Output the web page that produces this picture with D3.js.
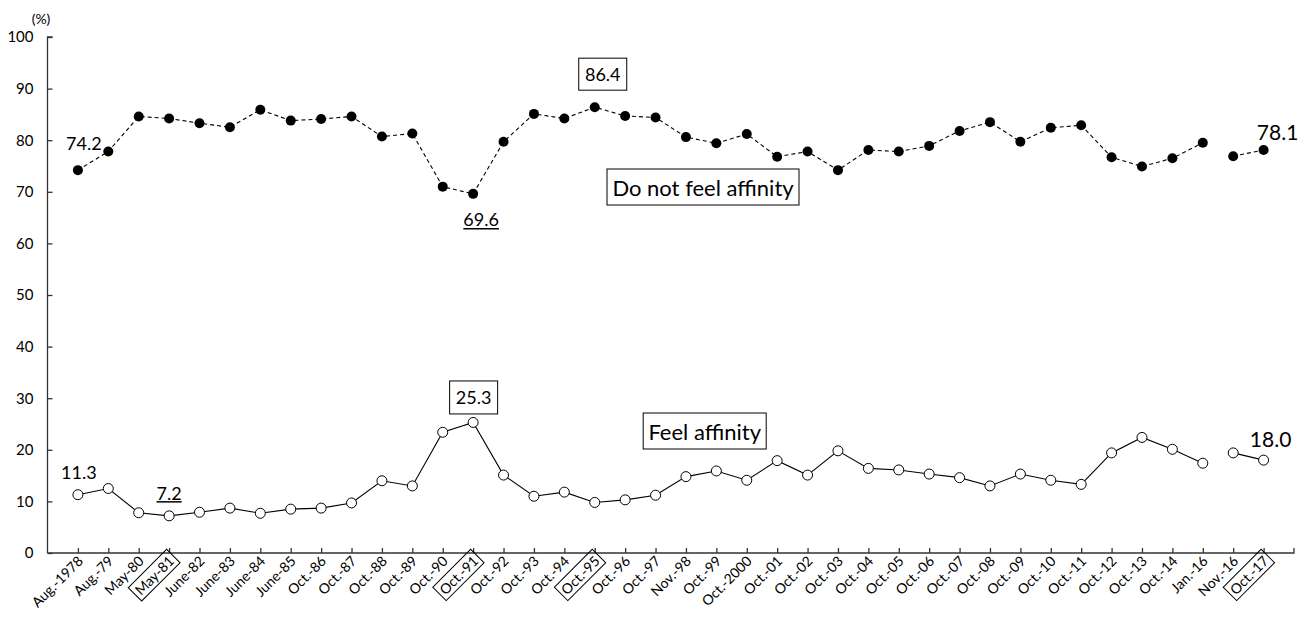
<!DOCTYPE html>
<html>
<head>
<meta charset="utf-8">
<script src="https://cdn.jsdelivr.net/npm/d3@7"></script>
<style>
  html, body { margin: 0; padding: 0; background: #fff; }
  svg { display: block; font-family: Lato, "Open Sans", sans-serif; }
</style>
</head>
<body>
<svg id="chart" width="1311" height="617"></svg>
<script>
const categories = ["Aug.-1978","Aug.-79","May-80","May-81","June-82","June-83","June-84","June-85","Oct.-86","Oct.-87","Oct.-88","Oct.-89","Oct.-90","Oct.-91","Oct.-92","Oct.-93","Oct.-94","Oct.-95","Oct.-96","Oct.-97","Nov.-98","Oct.-99","Oct.-2000","Oct.-01","Oct.-02","Oct.-03","Oct.-04","Oct.-05","Oct.-06","Oct.-07","Oct.-08","Oct.-09","Oct.-10","Oct.-11","Oct.-12","Oct.-13","Oct.-14","Jan.-16","Nov.-16","Oct.-17"];
const doNotFeel = [74.2,77.8,84.6,84.2,83.3,82.5,85.9,83.8,84.1,84.6,80.7,81.3,71.0,69.6,79.7,85.1,84.2,86.4,84.7,84.4,80.6,79.4,81.2,76.8,77.8,74.2,78.1,77.8,78.9,81.8,83.5,79.7,82.4,82.9,76.7,74.9,76.5,79.5,76.9,78.1];
const feel = [11.3,12.5,7.8,7.2,7.9,8.7,7.7,8.5,8.7,9.7,14.0,13.0,23.4,25.3,15.1,11.0,11.8,9.8,10.3,11.2,14.8,15.9,14.1,17.9,15.1,19.8,16.4,16.1,15.3,14.6,13.0,15.3,14.1,13.3,19.4,22.4,20.1,17.4,19.4,18.0];
const yTicks = [0,10,20,30,40,50,60,70,80,90,100];
const boxedCategories = ["May-81","Oct.-91","Oct.-95","Oct.-17"];
const breakAfter = "Jan.-16";

const svg = d3.select("#chart");
const mLeft = 47.5, mRight = 1294, mTop = 37, mBottom = 553;

const x = d3.scalePoint().domain(categories).range([mLeft, mRight]).padding(1);
const y = d3.scaleLinear().domain([0, 100]).range([mBottom, mTop]);

// Y axis
const yAxis = d3.axisRight(y).tickValues(yTicks).tickSize(5).tickFormat(d3.format("d"));
const gy = svg.append("g").attr("transform", `translate(${mLeft},0)`).call(yAxis);
gy.select(".domain").attr("stroke", "#333").attr("stroke-width", 1.3).attr("d", `M5,${mTop}H0V${mBottom}`);
gy.selectAll(".tick line").attr("stroke", "#333").attr("stroke-width", 1.3);
gy.selectAll(".tick text").attr("x", -14).attr("text-anchor", "end").attr("font-size", 15).attr("fill", "#000").attr("font-family", "Lato");
svg.append("text").attr("x", 41).attr("y", 24).attr("text-anchor", "middle").style("font-size", "14px").text("(%)");

// X axis
const xAxis = d3.axisTop(x).tickSize(5).tickFormat("");
const gx = svg.append("g").attr("transform", `translate(0,${mBottom})`).call(xAxis);
gx.select(".domain").attr("stroke", "#333").attr("stroke-width", 1.3).attr("d", `M${mLeft},0H${mRight}V-5`);
gx.selectAll(".tick line").attr("stroke", "#333").attr("stroke-width", 1.3);

const labels = svg.append("g").selectAll("g").data(categories).join("g")
  .attr("transform", d => `translate(${x(d) + 6},${mBottom + 9}) rotate(-45)`);
labels.append("text").attr("text-anchor", "end").attr("font-size", 14).attr("fill", "#000").text(d => d);
labels.filter(d => boxedCategories.includes(d)).each(function() {
  const g = d3.select(this);
  const tn = g.select("text").node();
  const bb = tn.getBBox();
  g.insert("rect", () => tn).attr("x", bb.x - 3).attr("y", bb.y - 1).attr("width", bb.width + 6).attr("height", bb.height + 2)
    .attr("fill", "none").attr("stroke", "#000").attr("stroke-width", 1);
});

// Series
const idx = categories.indexOf(breakAfter) + 1;
function segments(vals) {
  const pts = categories.map((c, i) => [x(c), y(vals[i])]);
  return [pts.slice(0, idx), pts.slice(idx)];
}
const line = d3.line();
segments(doNotFeel).forEach(seg => svg.append("path").attr("d", line(seg)).attr("fill", "none")
  .attr("stroke", "#000").attr("stroke-width", 1.1).attr("stroke-dasharray", "4,3"));
segments(feel).forEach(seg => svg.append("path").attr("d", line(seg)).attr("fill", "none")
  .attr("stroke", "#000").attr("stroke-width", 1.1));

svg.append("g").selectAll("circle").data(doNotFeel).join("circle")
  .attr("cx", (d, i) => x(categories[i])).attr("cy", d => y(d)).attr("r", 5).attr("fill", "#000");
svg.append("g").selectAll("circle").data(feel).join("circle")
  .attr("cx", (d, i) => x(categories[i])).attr("cy", d => y(d)).attr("r", 5)
  .attr("fill", "#fff").attr("stroke", "#000").attr("stroke-width", 1);

// Annotations
function label(text, cx, cy, size, opts = {}) {
  const t = svg.append("text").attr("x", cx).attr("y", cy).attr("text-anchor", "middle")
    .attr("dominant-baseline", "central").attr("font-size", size).attr("fill", "#000").text(text);
  const bb = t.node().getBBox();
  if (opts.box) {
    const bw = opts.bw || bb.width + 10, bh = opts.bh || bb.height + 6;
    svg.insert("rect", () => t.node()).attr("x", cx - bw / 2).attr("y", cy - bh / 2).attr("width", bw).attr("height", bh)
      .attr("fill", "#fff").attr("stroke", "#000").attr("stroke-width", 1);
  }
  if (opts.underline) {
    svg.append("line").attr("x1", bb.x).attr("x2", bb.x + bb.width).attr("y1", cy + opts.underline).attr("y2", cy + opts.underline)
      .attr("stroke", "#000").attr("stroke-width", 1.5);
  }
  return t;
}
const xi = c => x(c);
label("74.2", xi("Aug.-1978") + 6, y(74.2) - 27, 18);
label("69.6", xi("Oct.-91") + 8, y(69.6) + 25, 18, { underline: 10 });
label("86.4", xi("Oct.-95") + 8, y(86.4) - 33, 18, { box: true, bw: 48, bh: 32 });
label("78.1", xi("Oct.-17") + 14, y(78.1) - 19, 21);
label("11.3", xi("Aug.-1978") + 1, y(11.3) - 23, 18);
label("7.2", xi("May-81"), y(7.2) - 23, 18, { underline: 9 });
label("25.3", xi("Oct.-91") + 0.5, y(25.3) - 25, 18, { box: true, bw: 48, bh: 33 });
label("18.0", xi("Oct.-17") + 7, y(18.0) - 22, 21);
label("Do not feel affinity", 703, 187, 22, { box: true, bw: 192, bh: 36 });
label("Feel affinity", 704.7, 431, 22, { box: true, bw: 123, bh: 36 });
</script>
</body>
</html>
